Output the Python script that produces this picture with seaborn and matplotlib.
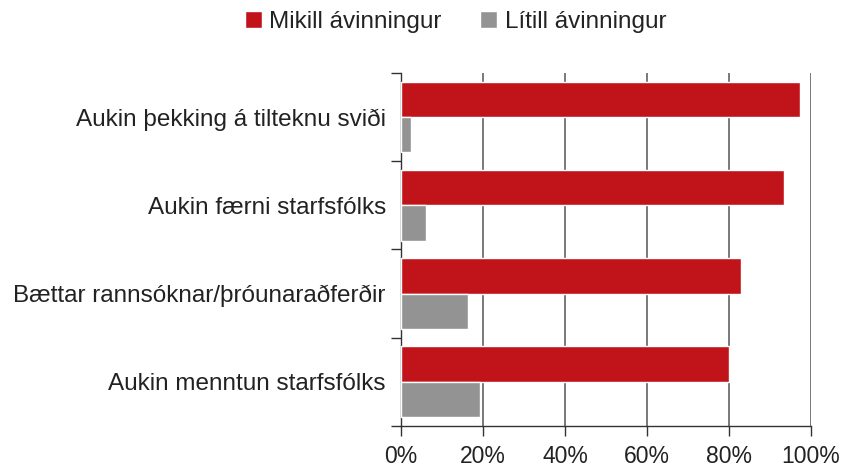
import numpy as np
import pandas as pd
import matplotlib.pyplot as plt
import seaborn as sns
from matplotlib.ticker import FixedLocator, PercentFormatter

categories = [
    "Aukin þekking á tilteknu sviði",
    "Aukin færni starfsfólks",
    "Bættar rannsóknar/þróunaraðferðir",
    "Aukin menntun starfsfólks",
]
series = ["Mikill ávinningur", "Lítill ávinningur"]
mikill = [97.3, 93.4, 82.9, 80.0]
litill = [2.4, 6.1, 16.3, 19.3]
colors = ["#C1141A", "#939393"]

df = pd.DataFrame({
    "flokkur": categories * 2,
    "röð": [series[0]] * 4 + [series[1]] * 4,
    "hlutfall": mikill + litill,
})

sns.set_style("white")
plt.rcParams["font.family"] = ["Liberation Sans", "DejaVu Sans"]
plt.rcParams["text.color"] = "#222222"

fig = plt.figure(figsize=(8.48, 4.67), dpi=100)
ax = fig.add_axes([0.473, 0.088, 0.483, 0.756])

sns.barplot(data=df, x="hlutfall", y="flokkur", hue="röð", orient="h",
            palette=colors, width=0.8, gap=0, saturation=1, ax=ax, zorder=3)

ax.set_xlim(0, 100)
ax.set_ylim(3.5, -0.5)
ax.xaxis.set_major_locator(FixedLocator([0, 20, 40, 60, 80, 100]))
ax.xaxis.set_major_formatter(PercentFormatter(decimals=0))
ax.grid(axis="x", color="#555555", linewidth=1.1, zorder=0)
ax.grid(axis="y", visible=False)

# ticks on the category boundaries, labels centred
ax.yaxis.set_minor_locator(FixedLocator(np.arange(-0.5, 4, 1)))
ax.tick_params(axis="y", which="major", length=0, pad=11, labelsize=17.5,
               labelcolor="#222222")
ax.tick_params(axis="y", which="minor", left=True, length=7, width=1,
               color="#333333", direction="out")
ax.tick_params(axis="x", which="major", bottom=True, length=7, width=1,
               color="#333333", direction="out", labelsize=16.5,
               labelcolor="#222222", pad=7)

for side in ["top", "right"]:
    ax.spines[side].set_visible(False)
for side in ["left", "bottom"]:
    ax.spines[side].set_color("#333333")
    ax.spines[side].set_linewidth(1)

ax.set_xlabel("")
ax.set_ylabel("")

handles, labels = ax.get_legend_handles_labels()
ax.legend_.remove()
fig.legend(handles, labels, loc="center", bbox_to_anchor=(0.537, 0.953),
           ncol=2, frameon=False, fontsize=17.5, handlelength=0.7,
           handleheight=0.7, handletextpad=0.3, columnspacing=1.6)

fig.savefig("out.png", dpi=100)
